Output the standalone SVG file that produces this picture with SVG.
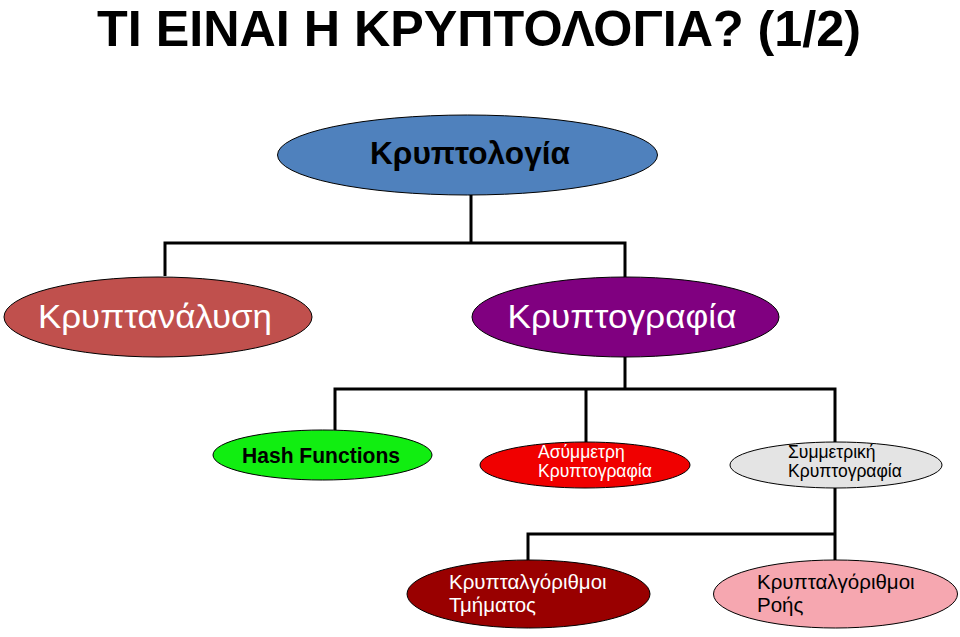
<svg xmlns="http://www.w3.org/2000/svg" width="960" height="637" viewBox="0 0 960 637">
<style>
.n{stroke:#000;stroke-width:1}
.t{font-family:"Liberation Sans",Arial,sans-serif}
.c{fill:none;stroke:#000;stroke-width:3}
</style>
<rect width="960" height="637" fill="#fff"/>
<text x="479" y="46" text-anchor="middle" class="t" font-size="50" font-weight="bold" textLength="764" lengthAdjust="spacingAndGlyphs">ΤΙ ΕΙΝΑΙ Η ΚΡΥΠΤΟΛΟΓΙΑ? (1/2)</text>
<g id="connectors">
<path class="c" d="M471 195V243M165 276V243H625V277"/>
<path class="c" d="M625 357V389M335 430V389H835V442M586 389V442"/>
<path class="c" d="M835 488V534M528 560V534H835V560"/>
</g>
<g id="kryptologia">
<ellipse class="n" cx="467.5" cy="155" rx="190" ry="40" fill="#4f81bd"/>
<text x="470" y="164" text-anchor="middle" class="t" font-size="31" font-weight="bold" textLength="200" lengthAdjust="spacingAndGlyphs">Κρυπτολογία</text>
</g>
<g id="kryptanalysi">
<ellipse class="n" cx="158" cy="317" rx="154" ry="40" fill="#c0504d"/>
<text x="155" y="328" text-anchor="middle" class="t" font-size="33" fill="#fff" textLength="234" lengthAdjust="spacingAndGlyphs">Κρυπτανάλυση</text>
</g>
<g id="kryptografia">
<ellipse class="n" cx="625.5" cy="317" rx="153.5" ry="40" fill="#800080"/>
<text x="622" y="328" text-anchor="middle" class="t" font-size="33" fill="#fff" textLength="229" lengthAdjust="spacingAndGlyphs">Κρυπτογραφία</text>
</g>
<g id="hash">
<ellipse class="n" cx="322.5" cy="455" rx="109.5" ry="25" fill="#11ee11"/>
<text x="321" y="463" text-anchor="middle" class="t" font-size="22" font-weight="bold" textLength="158" lengthAdjust="spacingAndGlyphs">Hash Functions</text>
</g>
<g id="asymmetri">
<ellipse class="n" cx="585" cy="465" rx="105" ry="23" fill="#f00000"/>
<text x="538" y="458" class="t" font-size="17.5" fill="#fff">Ασύμμετρη</text>
<text x="538" y="477" class="t" font-size="17.5" fill="#fff">Κρυπτογραφία</text>
</g>
<g id="symmetriki">
<ellipse class="n" cx="836" cy="465" rx="106" ry="23" fill="#e4e4e4"/>
<text x="788" y="458" class="t" font-size="17.5">Συμμετρική</text>
<text x="788" y="477" class="t" font-size="17.5">Κρυπτογραφία</text>
</g>
<g id="tmimatos">
<ellipse class="n" cx="528.5" cy="594" rx="121.5" ry="34" fill="#990000"/>
<text x="449" y="589" class="t" font-size="20.5" fill="#fff">Κρυπταλγόριθμοι</text>
<text x="449" y="612" class="t" font-size="20.5" fill="#fff">Τμήματος</text>
</g>
<g id="rois">
<ellipse class="n" cx="835.5" cy="594" rx="122" ry="34" fill="#f6a7b0"/>
<text x="757" y="589" class="t" font-size="20.5">Κρυπταλγόριθμοι</text>
<text x="757" y="612" class="t" font-size="20.5">Ροής</text>
</g>
</svg>
